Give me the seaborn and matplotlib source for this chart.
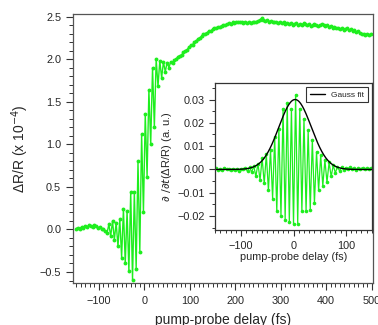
import numpy as np
import seaborn as sns
import matplotlib
matplotlib.use("Agg")
import matplotlib.pyplot as plt
from matplotlib.ticker import MultipleLocator

# delay grid (fs), 4 fs step
t_start = -150
t_step = 4

# main trace dR/R (x 1e-4)
dr_pre = [0.01, 0.02, 0.01, 0.03, 0.02, 0.04, 0.03, 0.05, 0.04, 0.03,
          0.05, 0.04, 0.02, 0.03, 0.01, 0.00, -0.02, -0.04]
dr_osc = [0.06, -0.08, 0.10, -0.12, 0.08, -0.20, 0.12, -0.33, 0.24, -0.40,
          0.22, -0.49, 0.44, -0.59, 0.44, -0.46, 0.80, -0.26, 1.12, 0.20,
          1.36, 0.62, 1.64, 1.00, 1.90, 1.20, 2.00, 1.68, 1.98, 1.78,
          1.97, 1.85, 1.96, 1.90, 1.97, 1.95, 1.99, 2.00]
dr_post = [2.03, 2.04, 2.05, 2.08, 2.10, 2.11, 2.14, 2.16, 2.17, 2.20,
           2.21, 2.24, 2.25, 2.27, 2.29, 2.30, 2.31, 2.33, 2.33, 2.35,
           2.36, 2.36, 2.38, 2.38, 2.39, 2.40, 2.40, 2.41, 2.42, 2.41,
           2.43, 2.42, 2.43, 2.44, 2.43, 2.43, 2.42, 2.43, 2.42, 2.43,
           2.42, 2.44, 2.43, 2.44, 2.45, 2.46, 2.48, 2.46, 2.45, 2.46,
           2.44, 2.45, 2.43, 2.44, 2.43, 2.42, 2.44, 2.42, 2.43, 2.41,
           2.42, 2.41, 2.42, 2.40, 2.41, 2.42, 2.40, 2.41, 2.40, 2.42,
           2.41, 2.40, 2.41, 2.39, 2.40, 2.41, 2.40, 2.39, 2.40, 2.41,
           2.40, 2.39, 2.40, 2.38, 2.39, 2.37, 2.38, 2.36, 2.37, 2.35,
           2.36, 2.34, 2.35, 2.36, 2.34, 2.35, 2.33, 2.34, 2.32, 2.33,
           2.31, 2.30, 2.29, 2.28, 2.29, 2.28, 2.30]
dr = dr_pre + dr_osc + dr_post
t_main = t_start + t_step * np.arange(len(dr))

# inset: time derivative (a. u.), 4 fs step from -148 fs
d_start = -148
deriv = [0.0005, -0.0003, 0.0002, -0.0004, 0.0008, 0.0001, 0.0003, -0.0002,
         0.0004, -0.0001, 0.0002, -0.0005, 0.0003, 0.0000, 0.0006, -0.0008,
         0.0010, -0.0012, 0.0015,
         -0.0030, 0.0025, -0.0045, 0.0048, -0.0060, 0.0065, -0.0090, 0.0085,
         -0.0125, 0.0140, -0.0180, 0.0175, -0.0200, 0.0260, -0.0215, 0.0285,
         -0.0225, 0.0260, -0.0235,
         0.0320, -0.0232, 0.0260, -0.0180, 0.0218, -0.0178, 0.0168, -0.0172,
         0.0125, -0.0145, 0.0075, -0.0090, 0.0060, -0.0070, 0.0040, -0.0055,
         0.0030, -0.0030, 0.0018,
         -0.0015, 0.0012, -0.0006, 0.0009, -0.0002, 0.0008, 0.0004, 0.0010,
         0.0002, 0.0007, -0.0001, 0.0006, 0.0003, 0.0008, 0.0000, 0.0005,
         0.0002, 0.0006]
t_inset = d_start + t_step * np.arange(len(deriv))

# Gauss fit parameters
g_amp = 0.030
g_center = 3.0
g_sigma = 31.0

green = "#1eee1e"

sns.set_style("ticks")
plt.rcParams["font.family"] = ["Liberation Sans", "DejaVu Sans"]
plt.rcParams["mathtext.fontset"] = "dejavusans"

fig = plt.figure(figsize=(3.78, 3.25), dpi=100)
ax = fig.add_axes([0.193, 0.129, 0.794, 0.828])

sns.lineplot(x=t_main, y=dr, ax=ax, color=green, marker="o", markersize=2.8,
             markeredgewidth=0, linewidth=1.0, sort=False)
ax.set_xlim(-157, 503)
ax.set_ylim(-0.63, 2.53)
ax.xaxis.set_major_locator(MultipleLocator(100))
ax.xaxis.set_minor_locator(MultipleLocator(10))
ax.yaxis.set_major_locator(MultipleLocator(0.5))
ax.yaxis.set_minor_locator(MultipleLocator(0.1))
ax.tick_params(which="major", length=5, width=0.8, labelsize=7.8, color="#333333")
ax.tick_params(axis="x", pad=4)
ax.tick_params(which="minor", length=3, width=0.7, color="#333333")
ax.set_xlabel("pump-probe delay (fs)", fontsize=10, labelpad=5)
ax.set_ylabel("ΔR/R (x 10$^{-4}$)", fontsize=10, labelpad=6)
for s in ax.spines.values():
    s.set_color("#555555")
    s.set_linewidth(0.9)

# inset
axi = fig.add_axes([0.569, 0.292, 0.415, 0.452])
axi.set_facecolor("white")
sns.lineplot(x=t_inset, y=deriv, ax=axi, color=green, marker="o", markersize=2.6,
             markeredgewidth=0, linewidth=0.9, sort=False)
t_fit = np.linspace(-150, 150, 301)
g_fit = g_amp * np.exp(-(t_fit - g_center) ** 2 / (2 * g_sigma ** 2))
axi.plot(t_fit, g_fit, color="black", linewidth=1.0, label="Gauss fit")
axi.set_xlim(-150, 150)
axi.set_ylim(-0.026, 0.037)
axi.xaxis.set_major_locator(MultipleLocator(100))
axi.xaxis.set_minor_locator(MultipleLocator(10))
axi.yaxis.set_major_locator(MultipleLocator(0.01))
axi.yaxis.set_minor_locator(MultipleLocator(0.005))
axi.tick_params(which="major", length=4, width=0.8, labelsize=7.8, color="#333333")
axi.tick_params(which="minor", length=2.5, width=0.7, color="#333333")
axi.set_xlabel("pump-probe delay (fs)", fontsize=7.8, labelpad=1)
axi.set_ylabel(r"$\partial\ /\partial t$(ΔR/R) (a. u.)", fontsize=8, labelpad=2)
for s in axi.spines.values():
    s.set_color("#333333")
    s.set_linewidth(0.9)
leg = axi.legend(loc="upper right", fontsize=6, frameon=True, fancybox=False,
                 handlelength=1.8, borderpad=0.4, borderaxespad=0.5)
leg.get_frame().set_edgecolor("black")
leg.get_frame().set_linewidth(0.8)

fig.savefig("out.png", dpi=100)
